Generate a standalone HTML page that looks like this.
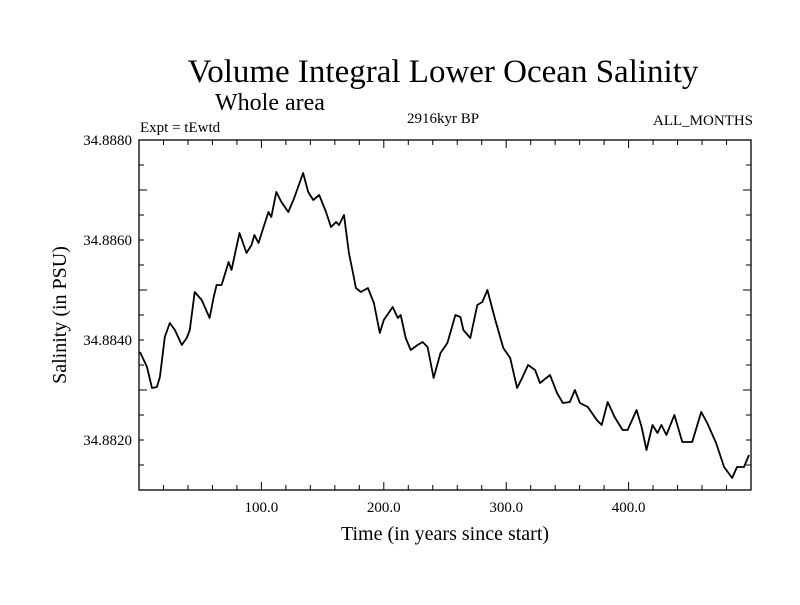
<!DOCTYPE html>
<html><head><meta charset="utf-8"><style>
body{margin:0;background:#fff;}
svg text{font-family:"Liberation Serif",serif;fill:#000;}
</style></head><body>
<svg id="chart" width="800" height="600">
<text x="443" y="82" font-size="33" text-anchor="middle">Volume Integral Lower Ocean Salinity</text>
<text x="270" y="110" font-size="24" text-anchor="middle">Whole area</text>
<text x="140" y="132" font-size="15">Expt = tEwtd</text>
<text x="443" y="123" font-size="15" text-anchor="middle">2916kyr BP</text>
<text x="753" y="125" font-size="15" text-anchor="end">ALL_MONTHS</text>
<text x="445" y="540" font-size="20" text-anchor="middle">Time (in years since start)</text>
<text transform="translate(66,315) rotate(-90)" font-size="20" text-anchor="middle">Salinity (in PSU)</text>
<g id="axes"></g>
<path id="line" fill="none" stroke="#000" stroke-width="1.8" stroke-linejoin="round"></path>
</svg>
<script>
const years=[0.8,6.5,10.6,14.6,17.1,21.1,25.2,29.3,35.0,39.0,41.5,45.5,51.2,57.7,61.0,63.4,67.5,73.2,75.6,82.1,87.8,91.9,94.3,97.6,105.7,108.1,112.2,116.3,122.0,126.8,134.1,138.2,142.3,147.2,152.8,156.9,161.0,163.4,167.5,171.5,174.8,177.2,181.3,187.0,191.9,196.7,200.0,207.3,211.4,213.8,217.9,222.0,227.6,231.7,235.8,240.7,246.3,252.0,258.5,262.6,265.0,270.7,276.4,280.5,284.6,291.1,297.6,303.3,308.9,313.0,317.9,323.6,327.6,335.8,341.5,346.3,352.0,356.1,360.2,366.7,374.0,378.0,382.9,388.6,395.1,399.2,406.5,410.6,414.6,419.5,423.6,426.8,430.9,437.4,443.9,452.0,459.3,464.2,471.5,478.0,484.6,488.6,494.3,498.4];
const salinity=[34.88376,34.88346,34.88304,34.88306,34.88326,34.88406,34.88434,34.88420,34.88390,34.88404,34.88420,34.88496,34.88480,34.88444,34.88486,34.88510,34.88510,34.88556,34.88540,34.88614,34.88574,34.88590,34.88610,34.88594,34.88656,34.88646,34.88696,34.88676,34.88656,34.88684,34.88734,34.88696,34.88680,34.88690,34.88656,34.88626,34.88636,34.88630,34.88650,34.88574,34.88534,34.88504,34.88496,34.88504,34.88474,34.88414,34.88440,34.88466,34.88444,34.88450,34.88404,34.88380,34.88390,34.88396,34.88386,34.88324,34.88374,34.88394,34.88450,34.88446,34.88420,34.88404,34.88470,34.88476,34.88500,34.88440,34.88384,34.88364,34.88304,34.88324,34.88350,34.88340,34.88314,34.88330,34.88294,34.88274,34.88276,34.88300,34.88274,34.88266,34.88240,34.88230,34.88276,34.88246,34.88220,34.88220,34.88260,34.88226,34.88180,34.88230,34.88214,34.88230,34.88210,34.88250,34.88196,34.88196,34.88256,34.88234,34.88194,34.88146,34.88124,34.88146,34.88146,34.88170];
const xTickLabels=["100.0","200.0","300.0","400.0"];
const yTickLabels=["34.8820","34.8840","34.8860","34.8880"];
const X0=139,X1=751,Y0=490,Y1=140,XMIN=0,XMAX=500,YMIN=34.881,YMAX=34.888;
function sx(v){return X0+(v-XMIN)/(XMAX-XMIN)*(X1-X0);}
function sy(v){return Y0-(v-YMIN)/(YMAX-YMIN)*(Y0-Y1);}
const NS="http://www.w3.org/2000/svg";
const g=document.getElementById('axes');
function mk(t,a){const e=document.createElementNS(NS,t);for(const k in a)e.setAttribute(k,a[k]);g.appendChild(e);return e;}
const frame=mk('rect',{x:X0,y:Y1,width:X1-X0,height:Y0-Y1,fill:'none',stroke:'#000','stroke-width':1.3});


for(let v=20;v<XMAX;v+=20){const major=v%100===0;const L=major?8:5;const x=sx(v);
 const t1=mk('line',{x1:x,x2:x,y1:Y0,y2:Y0-L,stroke:'#000'});
 
 
 const t2=mk('line',{x1:x,x2:x,y1:Y1,y2:Y1+L,stroke:'#000'});
 
 }
xTickLabels.forEach(s=>{const t=mk('text',{x:sx(parseFloat(s)),y:Y0+22,'font-size':15,'text-anchor':'middle'});t.textContent=s;
 
 });
for(let i=1;i<14;i++){const v=YMIN+i*0.0005;const major=i%4===0;const L=major?8:5;const y=sy(v);
 const t1=mk('line',{x1:X0,x2:X0+L,y1:y,y2:y,stroke:'#000'});
 
 
 const t2=mk('line',{x1:X1,x2:X1-L,y1:y,y2:y,stroke:'#000'});
 
 }
yTickLabels.forEach(s=>{const t=mk('text',{x:X0-7,y:sy(parseFloat(s))+5,'font-size':15,'text-anchor':'end'});t.textContent=s;
 
 });
document.getElementById('line').setAttribute('d',years.map((v,i)=>(i?'L':'M')+sx(v).toFixed(1)+','+sy(salinity[i]).toFixed(1)).join(''));
</script>
</body></html>
